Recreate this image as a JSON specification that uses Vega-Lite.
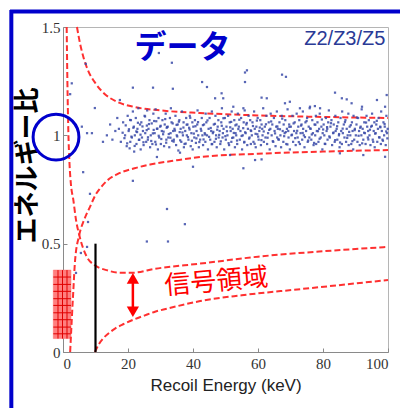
{
  "$schema": "https://vega.github.io/schema/vega-lite/v6.json",
  "width": 325,
  "height": 325,
  "autosize": "none",
  "padding": {"left": 63, "top": 27, "right": 12, "bottom": 56},
  "background": "white",
  "config": {
    "view": {"stroke": "#b5b5b5", "strokeWidth": 1},
    "axis": {
      "grid": false,
      "domainColor": "#8a8a8a",
      "tickColor": "#8a8a8a",
      "tickSize": -4,
      "labelFont": "Liberation Serif",
      "labelFontSize": 15,
      "labelColor": "#333333"
    }
  },
  "datasets": {
    "band2": [
      {"x": 18.35, "y": 1.012}, {"x": 18.9, "y": 0.987}, {"x": 19.3, "y": 1.046}, {"x": 19.75, "y": 0.963}, {"x": 20.3, "y": 1.028},
      {"x": 20.65, "y": 1.071}, {"x": 21.05, "y": 0.994}, {"x": 21.65, "y": 1.035}, {"x": 22.05, "y": 0.951}, {"x": 22.55, "y": 1.018},
      {"x": 23.05, "y": 1.058}, {"x": 23.35, "y": 0.979}, {"x": 23.85, "y": 1.003}, {"x": 24.45, "y": 1.041}, {"x": 24.75, "y": 0.968},
      {"x": 25.25, "y": 1.087}, {"x": 25.75, "y": 1.024}, {"x": 26.15, "y": 0.991}, {"x": 26.45, "y": 1.052}, {"x": 27.15, "y": 0.974},
      {"x": 27.65, "y": 1.009}, {"x": 28.05, "y": 1.066}, {"x": 28.6, "y": 0.958}, {"x": 29.05, "y": 1.031}, {"x": 29.45, "y": 0.998},
      {"x": 30.05, "y": 1.044}, {"x": 30.25, "y": 0.983}, {"x": 30.95, "y": 1.017}, {"x": 31.45, "y": 1.075}, {"x": 31.75, "y": 0.966},
      {"x": 32.05, "y": 1.038}, {"x": 32.55, "y": 1.006}, {"x": 33.05, "y": 0.989}, {"x": 33.75, "y": 1.055}, {"x": 34.05, "y": 0.971},
      {"x": 34.45, "y": 1.022}, {"x": 34.95, "y": 1.048}, {"x": 35.15, "y": 0.995}, {"x": 35.65, "y": 1.063}, {"x": 36.05, "y": 0.977},
      {"x": 36.75, "y": 1.013}, {"x": 37.05, "y": 1.036}, {"x": 37.75, "y": 0.962}, {"x": 38.05, "y": 1.049}, {"x": 38.45, "y": 0.992},
      {"x": 38.95, "y": 1.027}, {"x": 39.15, "y": 1.081}, {"x": 39.65, "y": 0.975}, {"x": 40.25, "y": 1.008}, {"x": 40.75, "y": 1.042},
      {"x": 41.05, "y": 0.986}, {"x": 41.55, "y": 1.061}, {"x": 41.95, "y": 0.969}, {"x": 42.55, "y": 1.021}, {"x": 43.05, "y": 1.047},
      {"x": 43.25, "y": 0.981}, {"x": 43.75, "y": 1.004}, {"x": 44.45, "y": 1.069}, {"x": 44.95, "y": 0.993}, {"x": 45.45, "y": 1.034},
      {"x": 45.75, "y": 0.959}, {"x": 46.25, "y": 1.016}, {"x": 46.75, "y": 1.053}, {"x": 47.05, "y": 0.984}, {"x": 47.45, "y": 1.026},
      {"x": 48.05, "y": 1.002}, {"x": 48.55, "y": 0.972}, {"x": 48.85, "y": 1.044}, {"x": 49.35, "y": 1.079}, {"x": 49.95, "y": 0.996},
      {"x": 50.45, "y": 1.019}, {"x": 50.95, "y": 0.964}, {"x": 51.45, "y": 1.037}, {"x": 51.75, "y": 1.062}, {"x": 52.05, "y": 0.988},
      {"x": 52.55, "y": 1.011}, {"x": 53.05, "y": 1.046}, {"x": 53.55, "y": 0.976}, {"x": 53.95, "y": 1.029}, {"x": 54.25, "y": 1.072},
      {"x": 54.95, "y": 0.997}, {"x": 55.45, "y": 1.033}, {"x": 55.75, "y": 0.967}, {"x": 56.05, "y": 1.014}, {"x": 56.55, "y": 1.057},
      {"x": 57.25, "y": 0.985}, {"x": 57.75, "y": 1.023}, {"x": 58.45, "y": 1.043}, {"x": 58.95, "y": 0.961}, {"x": 59.25, "y": 1.007},
      {"x": 59.65, "y": 1.068}, {"x": 60.05, "y": 0.994}, {"x": 60.55, "y": 1.036}, {"x": 61.05, "y": 0.978}, {"x": 61.75, "y": 1.018},
      {"x": 62.45, "y": 1.051}, {"x": 62.95, "y": 0.989}, {"x": 63.45, "y": 1.025}, {"x": 64.05, "y": 1.064}, {"x": 64.55, "y": 0.973},
      {"x": 65.25, "y": 1.009}, {"x": 65.95, "y": 1.041}, {"x": 66.25, "y": 0.982}, {"x": 66.75, "y": 1.028}, {"x": 67.45, "y": 1.077},
      {"x": 68.05, "y": 0.996}, {"x": 68.55, "y": 1.015}, {"x": 69.05, "y": 0.958}, {"x": 69.65, "y": 1.039}, {"x": 70.45, "y": 1.003},
      {"x": 70.95, "y": 1.055}, {"x": 71.45, "y": 0.987}, {"x": 72.05, "y": 1.021}, {"x": 72.55, "y": 0.969}, {"x": 73.25, "y": 1.045},
      {"x": 73.75, "y": 1.011}, {"x": 74.45, "y": 0.992}, {"x": 74.95, "y": 1.066}, {"x": 75.45, "y": 0.976}, {"x": 76.05, "y": 1.032},
      {"x": 76.55, "y": 1.004}, {"x": 77.25, "y": 0.965}, {"x": 77.65, "y": 1.049}, {"x": 78.45, "y": 1.019}, {"x": 78.95, "y": 0.984},
      {"x": 79.65, "y": 1.073}, {"x": 80.05, "y": 1.027}, {"x": 80.55, "y": 0.961}, {"x": 81.25, "y": 1.038}, {"x": 81.95, "y": 0.995},
      {"x": 82.45, "y": 1.056}, {"x": 83.25, "y": 1.013}, {"x": 83.75, "y": 0.978}, {"x": 84.35, "y": 1.042}, {"x": 84.95, "y": 1.006},
      {"x": 85.25, "y": 0.967}, {"x": 86.05, "y": 1.031}, {"x": 86.75, "y": 1.061}, {"x": 87.45, "y": 0.988}, {"x": 88.05, "y": 1.016},
      {"x": 88.55, "y": 1.047}, {"x": 89.05, "y": 0.973}, {"x": 89.75, "y": 1.024}, {"x": 90.45, "y": 1.082}, {"x": 90.95, "y": 0.998},
      {"x": 91.45, "y": 1.035}, {"x": 92.05, "y": 0.963}, {"x": 92.65, "y": 1.012}, {"x": 93.25, "y": 1.059}, {"x": 93.95, "y": 0.981},
      {"x": 94.45, "y": 1.026}, {"x": 95.05, "y": 1.044}, {"x": 95.45, "y": 0.97}, {"x": 96.05, "y": 1.008}, {"x": 96.55, "y": 1.067},
      {"x": 97.25, "y": 0.991}, {"x": 97.65, "y": 1.037}, {"x": 98.45, "y": 0.975}, {"x": 98.95, "y": 1.052}, {"x": 99.45, "y": 1.018},
      {"x": 99.8, "y": 0.986}
    ]
  },
  "layer": [
    {
      "data": {"values": [{"x": -2.98, "x2": 2.46, "y": 0.062, "y2": 0.378}]},
      "mark": {"type": "rect", "fill": "#ff7f7f", "stroke": "#ff6a6a", "strokeWidth": 0.5},
      "encoding": {
        "x": {"field": "x", "type": "quantitative", "scale": {"domain": [0, 100], "nice": false, "zero": false}},
        "x2": {"field": "x2"},
        "y": {"field": "y", "type": "quantitative", "scale": {"domain": [0, 1.5], "nice": false, "zero": false}},
        "y2": {"field": "y2"}
      }
    },
    {
      "data": {"values": [{"x": -1.54, "y": 0.062, "y2": 0.378}, {"x": -0.15, "y": 0.062, "y2": 0.378}, {"x": 1.23, "y": 0.062, "y2": 0.378}]},
      "mark": {"type": "rule", "color": "#e00000", "strokeWidth": 1},
      "encoding": {
        "x": {"field": "x", "type": "quantitative"},
        "y": {"field": "y", "type": "quantitative"},
        "y2": {"field": "y2"}
      }
    },
    {
      "data": {"values": [
        {"y": 0.346, "x": -2.98, "x2": 2.46}, {"y": 0.312, "x": -2.98, "x2": 2.46}, {"y": 0.280, "x": -2.98, "x2": 2.46},
        {"y": 0.246, "x": -2.98, "x2": 2.46}, {"y": 0.215, "x": -2.98, "x2": 2.46}, {"y": 0.181, "x": -2.98, "x2": 2.46},
        {"y": 0.149, "x": -2.98, "x2": 2.46}, {"y": 0.115, "x": -2.98, "x2": 2.46}, {"y": 0.084, "x": -2.98, "x2": 2.46}
      ]},
      "mark": {"type": "rule", "color": "#e00000", "strokeWidth": 1},
      "encoding": {
        "y": {"field": "y", "type": "quantitative"},
        "x": {"field": "x", "type": "quantitative"},
        "x2": {"field": "x2"}
      }
    },
    {
      "data": {"values": [
        {"c": "A", "x": 4.3, "y": 1.5}, {"c": "A", "x": 5.3, "y": 1.42}, {"c": "A", "x": 6.4, "y": 1.355}, {"c": "A", "x": 7.7, "y": 1.3},
        {"c": "A", "x": 10, "y": 1.24}, {"c": "A", "x": 12.9, "y": 1.19}, {"c": "A", "x": 16.6, "y": 1.155}, {"c": "A", "x": 22.2, "y": 1.13},
        {"c": "A", "x": 30, "y": 1.115}, {"c": "A", "x": 42, "y": 1.103}, {"c": "A", "x": 60, "y": 1.092}, {"c": "A", "x": 80, "y": 1.085},
        {"c": "A", "x": 100, "y": 1.08},
        {"c": "B", "x": 2.2, "y": 0.0}, {"c": "B", "x": 2.7, "y": 0.15}, {"c": "B", "x": 3.2, "y": 0.29}, {"c": "B", "x": 3.7, "y": 0.42},
        {"c": "B", "x": 5.0, "y": 0.54}, {"c": "B", "x": 6.5, "y": 0.61}, {"c": "B", "x": 8.3, "y": 0.67}, {"c": "B", "x": 10, "y": 0.725},
        {"c": "B", "x": 11.4, "y": 0.755}, {"c": "B", "x": 13.5, "y": 0.79}, {"c": "B", "x": 16.6, "y": 0.82}, {"c": "B", "x": 22, "y": 0.848},
        {"c": "B", "x": 26.8, "y": 0.865}, {"c": "B", "x": 35, "y": 0.885}, {"c": "B", "x": 42.2, "y": 0.9}, {"c": "B", "x": 60, "y": 0.915},
        {"c": "B", "x": 80, "y": 0.925}, {"c": "B", "x": 100, "y": 0.932},
        {"c": "C", "x": 1.13, "y": 1.5}, {"c": "C", "x": 1.35, "y": 1.25}, {"c": "C", "x": 1.64, "y": 1.02}, {"c": "C", "x": 2.0, "y": 0.87},
        {"c": "C", "x": 2.4, "y": 0.78}, {"c": "C", "x": 3.2, "y": 0.7}, {"c": "C", "x": 4.0, "y": 0.61}, {"c": "C", "x": 5.0, "y": 0.54},
        {"c": "C", "x": 7.3, "y": 0.44}, {"c": "C", "x": 9.8, "y": 0.4}, {"c": "C", "x": 13.4, "y": 0.378}, {"c": "C", "x": 17.5, "y": 0.366},
        {"c": "C", "x": 21.5, "y": 0.366}, {"c": "C", "x": 28.3, "y": 0.384}, {"c": "C", "x": 42.2, "y": 0.408}, {"c": "C", "x": 60, "y": 0.44},
        {"c": "C", "x": 80, "y": 0.465}, {"c": "C", "x": 100, "y": 0.485},
        {"c": "D", "x": 9.8, "y": 0.0}, {"c": "D", "x": 11, "y": 0.035}, {"c": "D", "x": 12.5, "y": 0.065}, {"c": "D", "x": 14.5, "y": 0.092},
        {"c": "D", "x": 16, "y": 0.108}, {"c": "D", "x": 18.5, "y": 0.128}, {"c": "D", "x": 21.5, "y": 0.148}, {"c": "D", "x": 25, "y": 0.168},
        {"c": "D", "x": 28.3, "y": 0.186}, {"c": "D", "x": 32, "y": 0.2}, {"c": "D", "x": 42.2, "y": 0.235}, {"c": "D", "x": 55, "y": 0.262},
        {"c": "D", "x": 73, "y": 0.29}, {"c": "D", "x": 100, "y": 0.332}
      ]},
      "mark": {"type": "line", "color": "#ff3030", "strokeWidth": 2, "strokeDash": [6, 3], "interpolate": "monotone"},
      "encoding": {
        "x": {"field": "x", "type": "quantitative"},
        "y": {"field": "y", "type": "quantitative"},
        "detail": {"field": "c"}
      }
    },
    {
      "data": {"values": [{"x": 10, "y": 0, "y2": 0.5}]},
      "mark": {"type": "rule", "color": "#000000", "strokeWidth": 2.2},
      "encoding": {
        "x": {"field": "x", "type": "quantitative"},
        "y": {"field": "y", "type": "quantitative"},
        "y2": {"field": "y2"}
      }
    },
    {
      "data": {"values": [{"x": 21.5, "y": 0.19, "y2": 0.335}]},
      "mark": {"type": "rule", "color": "#ff0000", "strokeWidth": 2.5},
      "encoding": {
        "x": {"field": "x", "type": "quantitative"},
        "y": {"field": "y", "type": "quantitative"},
        "y2": {"field": "y2"}
      }
    },
    {
      "data": {"values": [{"x": 21.5, "y": 0.34, "s": "triangle-up"}, {"x": 21.5, "y": 0.186, "s": "triangle-down"}]},
      "mark": {"type": "point", "filled": true, "color": "#ff0000", "opacity": 1, "size": 150},
      "encoding": {
        "x": {"field": "x", "type": "quantitative"},
        "y": {"field": "y", "type": "quantitative"},
        "shape": {"field": "s", "type": "nominal", "scale": null}
      }
    },
    {
      "data": {"name": "band2"},
      "mark": {"type": "point", "filled": true, "shape": "square", "size": 5, "color": "#3a4aa8", "opacity": 0.85},
      "encoding": {
        "x": {"field": "x", "type": "quantitative"},
        "y": {"field": "y", "type": "quantitative"}
      }
    },
    {
      "data": {"values": [
        {"x": 2.2, "y": 1.19}, {"x": 2.7, "y": 1.24}, {"x": 7.0, "y": 1.33}, {"x": 9.8, "y": 1.126}, {"x": 5.8, "y": 1.04},
        {"x": 7.4, "y": 1.01}, {"x": 8.9, "y": 1.01}, {"x": 13.5, "y": 1.0}, {"x": 6.2, "y": 0.83}, {"x": 8.3, "y": 0.73},
        {"x": 7.7, "y": 0.6}, {"x": 7.4, "y": 0.485}, {"x": 5.5, "y": 0.457}, {"x": 4.0, "y": 0.365}, {"x": 21.5, "y": 0.79},
        {"x": 25.8, "y": 0.51}, {"x": 32.3, "y": 0.51}, {"x": 32, "y": 0.66}, {"x": 37.5, "y": 0.59}, {"x": 29.5, "y": 1.38},
        {"x": 33.5, "y": 1.335}, {"x": 56, "y": 1.246}, {"x": 56, "y": 1.29}, {"x": 56.6, "y": 1.3}, {"x": 67.4, "y": 1.28},
        {"x": 68.6, "y": 1.27}, {"x": 42.8, "y": 1.246}, {"x": 44.3, "y": 1.223}, {"x": 55.5, "y": 0.848}, {"x": 61.1, "y": 0.889},
        {"x": 59.1, "y": 0.886}, {"x": 51.4, "y": 0.909}, {"x": 85.2, "y": 0.917}, {"x": 92.4, "y": 0.909}, {"x": 99.1, "y": 0.901},
        {"x": 17.5, "y": 1.163}, {"x": 21.5, "y": 1.22}, {"x": 27.7, "y": 1.22}, {"x": 33.8, "y": 1.215}, {"x": 28.9, "y": 0.9},
        {"x": 36, "y": 0.92}, {"x": 40, "y": 0.855}, {"x": 46.8, "y": 1.171}, {"x": 48.8, "y": 1.194}, {"x": 49.3, "y": 1.171},
        {"x": 52.4, "y": 1.132}, {"x": 55.5, "y": 1.125}, {"x": 61.1, "y": 1.174}, {"x": 62.7, "y": 1.171}, {"x": 68.3, "y": 1.148},
        {"x": 69.8, "y": 1.155}, {"x": 72.9, "y": 1.125}, {"x": 76, "y": 1.132}, {"x": 77.5, "y": 1.135}, {"x": 79.1, "y": 1.125},
        {"x": 83.7, "y": 1.197}, {"x": 85.8, "y": 1.171}, {"x": 87.3, "y": 1.166}, {"x": 88.8, "y": 1.148}, {"x": 92, "y": 1.132},
        {"x": 96.6, "y": 1.163}, {"x": 99.6, "y": 1.186}, {"x": 99.1, "y": 1.132}, {"x": 14.5, "y": 1.05}, {"x": 15.2, "y": 0.98},
        {"x": 16.1, "y": 1.02}, {"x": 16.7, "y": 1.08}, {"x": 12.3, "y": 0.97},
        {"x": 17.2, "y": 1.03}, {"x": 17.8, "y": 0.97}, {"x": 18.5, "y": 1.06}, {"x": 19.1, "y": 1.0}, {"x": 19.6, "y": 0.95}, {"x": 19.9, "y": 1.09},
        {"x": 20.2, "y": 1.02}, {"x": 20.5, "y": 0.94}, {"x": 20.9, "y": 1.07}, {"x": 21.2, "y": 0.99}, {"x": 21.5, "y": 1.11}, {"x": 21.8, "y": 1.04}, {"x": 20.7, "y": 0.97}, {"x": 21.9, "y": 0.925},
        {"x": 22.1, "y": 1.0}, {"x": 22.4, "y": 1.08}, {"x": 22.6, "y": 0.96}, {"x": 22.9, "y": 1.03}, {"x": 23.2, "y": 1.125}, {"x": 23.5, "y": 0.98}, {"x": 23.7, "y": 1.05}, {"x": 23.9, "y": 0.935}, {"x": 22.8, "y": 1.015},
        {"x": 24.1, "y": 1.06}, {"x": 24.3, "y": 0.99}, {"x": 24.6, "y": 1.02}, {"x": 24.8, "y": 0.955}, {"x": 25.1, "y": 1.09}, {"x": 25.3, "y": 1.01}, {"x": 25.6, "y": 0.97}, {"x": 25.8, "y": 1.045}, {"x": 25.9, "y": 1.115},
        {"x": 26.1, "y": 0.98}, {"x": 26.3, "y": 1.03}, {"x": 26.6, "y": 1.07}, {"x": 26.8, "y": 0.945}, {"x": 27.0, "y": 1.0}, {"x": 27.3, "y": 1.055}, {"x": 27.5, "y": 0.96}, {"x": 27.8, "y": 1.1}, {"x": 27.9, "y": 1.025},
        {"x": 28.2, "y": 1.01}, {"x": 28.4, "y": 0.97}, {"x": 28.7, "y": 1.065}, {"x": 28.9, "y": 1.03}, {"x": 29.2, "y": 0.935}, {"x": 29.4, "y": 1.08}, {"x": 29.6, "y": 0.99}, {"x": 29.9, "y": 1.04}, {"x": 28.5, "y": 1.12},
        {"x": 30.1, "y": 0.96}, {"x": 30.4, "y": 1.02}, {"x": 30.6, "y": 1.07}, {"x": 30.8, "y": 1.005}, {"x": 31.1, "y": 0.95}, {"x": 31.3, "y": 1.05}, {"x": 31.6, "y": 1.1}, {"x": 31.8, "y": 0.98}, {"x": 31.9, "y": 1.035},
        {"x": 32.2, "y": 1.04}, {"x": 32.4, "y": 0.99}, {"x": 32.7, "y": 0.945}, {"x": 32.9, "y": 1.08}, {"x": 33.1, "y": 1.01}, {"x": 33.4, "y": 1.06}, {"x": 33.6, "y": 0.975}, {"x": 33.9, "y": 1.02}, {"x": 33.2, "y": 1.125},
        {"x": 34.1, "y": 0.98}, {"x": 34.3, "y": 1.03}, {"x": 34.6, "y": 1.09}, {"x": 34.8, "y": 0.955}, {"x": 35.0, "y": 1.0}, {"x": 35.3, "y": 1.05}, {"x": 35.5, "y": 0.93}, {"x": 35.8, "y": 1.07}, {"x": 35.9, "y": 1.015},
        {"x": 36.2, "y": 1.03}, {"x": 36.4, "y": 0.97}, {"x": 36.6, "y": 1.11}, {"x": 36.9, "y": 1.0}, {"x": 37.1, "y": 1.06}, {"x": 37.4, "y": 0.96}, {"x": 37.6, "y": 1.02}, {"x": 37.9, "y": 1.08}, {"x": 37.2, "y": 0.945},
        {"x": 38.1, "y": 1.0}, {"x": 38.3, "y": 1.05}, {"x": 38.6, "y": 0.98}, {"x": 38.8, "y": 1.035}, {"x": 39.0, "y": 1.09}, {"x": 39.3, "y": 0.95}, {"x": 39.5, "y": 1.01}, {"x": 39.8, "y": 1.06}, {"x": 39.9, "y": 0.935},
        {"x": 40.1, "y": 1.04}, {"x": 40.4, "y": 0.99}, {"x": 40.6, "y": 1.07}, {"x": 40.9, "y": 0.965}, {"x": 41.1, "y": 1.02}, {"x": 41.4, "y": 1.115}, {"x": 41.6, "y": 1.0}, {"x": 41.8, "y": 0.945}, {"x": 41.3, "y": 1.05},
        {"x": 42.2, "y": 0.98}, {"x": 42.4, "y": 1.03}, {"x": 42.7, "y": 1.08}, {"x": 42.9, "y": 1.0}, {"x": 43.1, "y": 0.955}, {"x": 43.4, "y": 1.05}, {"x": 43.6, "y": 1.01}, {"x": 43.8, "y": 0.97}, {"x": 43.9, "y": 1.1},
        {"x": 44.1, "y": 1.06}, {"x": 44.3, "y": 1.0}, {"x": 44.6, "y": 0.935}, {"x": 44.8, "y": 1.03}, {"x": 45.1, "y": 1.08}, {"x": 45.3, "y": 0.98}, {"x": 45.6, "y": 1.02}, {"x": 45.8, "y": 1.11}, {"x": 45.9, "y": 0.96},
        {"x": 46.1, "y": 1.01}, {"x": 46.4, "y": 1.05}, {"x": 46.6, "y": 0.97}, {"x": 46.9, "y": 1.09}, {"x": 47.1, "y": 1.0}, {"x": 47.3, "y": 0.945}, {"x": 47.6, "y": 1.04}, {"x": 47.8, "y": 1.07}, {"x": 47.9, "y": 0.99},
        {"x": 48.2, "y": 1.02}, {"x": 48.4, "y": 0.96}, {"x": 48.7, "y": 1.06}, {"x": 48.9, "y": 1.125}, {"x": 49.1, "y": 0.99}, {"x": 49.4, "y": 1.03}, {"x": 49.6, "y": 0.935}, {"x": 49.8, "y": 1.08}, {"x": 49.2, "y": 1.01},
        {"x": 50.1, "y": 0.98}, {"x": 50.3, "y": 1.04}, {"x": 50.6, "y": 1.0}, {"x": 50.8, "y": 1.09}, {"x": 51.1, "y": 0.955}, {"x": 51.3, "y": 1.06}, {"x": 51.6, "y": 1.02}, {"x": 51.8, "y": 0.97}, {"x": 51.9, "y": 1.11},
        {"x": 52.2, "y": 1.03}, {"x": 52.4, "y": 0.99}, {"x": 52.7, "y": 1.07}, {"x": 52.9, "y": 0.945}, {"x": 53.1, "y": 1.01}, {"x": 53.4, "y": 1.05}, {"x": 53.6, "y": 0.96}, {"x": 53.8, "y": 1.1}, {"x": 53.3, "y": 1.0},
        {"x": 54.1, "y": 1.04}, {"x": 54.4, "y": 0.98}, {"x": 54.6, "y": 1.02}, {"x": 54.8, "y": 1.08}, {"x": 55.1, "y": 0.935}, {"x": 55.3, "y": 1.0}, {"x": 55.6, "y": 1.06}, {"x": 55.8, "y": 0.97}, {"x": 55.9, "y": 1.115},
        {"x": 56.2, "y": 1.01}, {"x": 56.4, "y": 1.05}, {"x": 56.7, "y": 0.955}, {"x": 56.9, "y": 1.03}, {"x": 57.1, "y": 1.09}, {"x": 57.4, "y": 0.99}, {"x": 57.6, "y": 1.07}, {"x": 57.8, "y": 0.96}, {"x": 57.9, "y": 1.02},
        {"x": 58.1, "y": 1.0}, {"x": 58.3, "y": 1.06}, {"x": 58.6, "y": 0.97}, {"x": 58.8, "y": 1.11}, {"x": 59.0, "y": 1.03}, {"x": 59.3, "y": 0.945}, {"x": 59.5, "y": 1.04}, {"x": 59.8, "y": 1.005}, {"x": 59.9, "y": 1.08},
        {"x": 60.2, "y": 0.98}, {"x": 60.4, "y": 1.02}, {"x": 60.7, "y": 1.07}, {"x": 60.9, "y": 0.955}, {"x": 61.1, "y": 1.05}, {"x": 61.4, "y": 1.0}, {"x": 61.6, "y": 1.125}, {"x": 61.8, "y": 0.97}, {"x": 61.3, "y": 1.03},
        {"x": 62.1, "y": 1.04}, {"x": 62.3, "y": 0.99}, {"x": 62.6, "y": 1.09}, {"x": 62.8, "y": 0.96}, {"x": 63.1, "y": 1.01}, {"x": 63.3, "y": 1.06}, {"x": 63.6, "y": 0.935}, {"x": 63.8, "y": 1.03}, {"x": 63.9, "y": 1.1},
        {"x": 64.2, "y": 1.0}, {"x": 64.4, "y": 1.05}, {"x": 64.7, "y": 0.97}, {"x": 64.9, "y": 1.08}, {"x": 65.1, "y": 1.02}, {"x": 65.4, "y": 0.95}, {"x": 65.6, "y": 1.04}, {"x": 65.8, "y": 1.11}, {"x": 65.9, "y": 0.99},
        {"x": 66.1, "y": 1.03}, {"x": 66.4, "y": 0.98}, {"x": 66.6, "y": 1.06}, {"x": 66.9, "y": 1.0}, {"x": 67.1, "y": 0.945}, {"x": 67.3, "y": 1.09}, {"x": 67.6, "y": 1.02}, {"x": 67.8, "y": 0.97}, {"x": 67.9, "y": 1.05},
        {"x": 68.2, "y": 1.01}, {"x": 68.4, "y": 1.07}, {"x": 68.7, "y": 0.96}, {"x": 68.9, "y": 1.03}, {"x": 69.1, "y": 1.12}, {"x": 69.4, "y": 0.99}, {"x": 69.6, "y": 1.05}, {"x": 69.8, "y": 0.935}, {"x": 69.3, "y": 1.02},
        {"x": 70.1, "y": 1.04}, {"x": 70.3, "y": 1.0}, {"x": 70.6, "y": 1.09}, {"x": 70.8, "y": 0.97}, {"x": 71.1, "y": 1.02}, {"x": 71.3, "y": 1.06}, {"x": 71.6, "y": 0.955}, {"x": 71.8, "y": 1.01}, {"x": 71.9, "y": 1.1},
        {"x": 72.2, "y": 0.99}, {"x": 72.4, "y": 1.04}, {"x": 72.7, "y": 1.07}, {"x": 72.9, "y": 0.96}, {"x": 73.1, "y": 1.01}, {"x": 73.4, "y": 1.05}, {"x": 73.6, "y": 0.98}, {"x": 73.8, "y": 1.11}, {"x": 73.9, "y": 1.03},
        {"x": 74.1, "y": 1.0}, {"x": 74.3, "y": 0.945}, {"x": 74.6, "y": 1.06}, {"x": 74.8, "y": 1.02}, {"x": 75.1, "y": 1.08}, {"x": 75.3, "y": 0.97}, {"x": 75.6, "y": 1.04}, {"x": 75.8, "y": 0.99}, {"x": 75.9, "y": 1.125},
        {"x": 76.2, "y": 1.03}, {"x": 76.4, "y": 0.98}, {"x": 76.7, "y": 1.07}, {"x": 76.9, "y": 1.01}, {"x": 77.1, "y": 0.955}, {"x": 77.4, "y": 1.05}, {"x": 77.6, "y": 1.0}, {"x": 77.8, "y": 1.09}, {"x": 77.9, "y": 0.96},
        {"x": 78.1, "y": 1.02}, {"x": 78.3, "y": 1.06}, {"x": 78.6, "y": 0.97}, {"x": 78.8, "y": 1.03}, {"x": 79.0, "y": 1.1}, {"x": 79.3, "y": 0.99}, {"x": 79.5, "y": 1.04}, {"x": 79.8, "y": 0.935}, {"x": 79.9, "y": 1.01},
        {"x": 80.2, "y": 1.05}, {"x": 80.4, "y": 1.0}, {"x": 80.7, "y": 0.96}, {"x": 80.9, "y": 1.08}, {"x": 81.1, "y": 1.02}, {"x": 81.4, "y": 0.98}, {"x": 81.6, "y": 1.06}, {"x": 81.8, "y": 1.115}, {"x": 81.3, "y": 1.03},
        {"x": 82.1, "y": 0.99}, {"x": 82.3, "y": 1.04}, {"x": 82.6, "y": 1.07}, {"x": 82.8, "y": 0.955}, {"x": 83.1, "y": 1.01}, {"x": 83.3, "y": 1.05}, {"x": 83.6, "y": 0.97}, {"x": 83.8, "y": 1.09}, {"x": 83.9, "y": 1.02},
        {"x": 84.2, "y": 1.03}, {"x": 84.4, "y": 0.98}, {"x": 84.7, "y": 1.06}, {"x": 84.9, "y": 1.0}, {"x": 85.1, "y": 0.945}, {"x": 85.4, "y": 1.08}, {"x": 85.6, "y": 1.02}, {"x": 85.8, "y": 0.96}, {"x": 85.9, "y": 1.11},
        {"x": 86.1, "y": 1.01}, {"x": 86.4, "y": 1.05}, {"x": 86.6, "y": 0.99}, {"x": 86.9, "y": 1.07}, {"x": 87.1, "y": 0.97}, {"x": 87.3, "y": 1.03}, {"x": 87.6, "y": 1.0}, {"x": 87.8, "y": 1.1}, {"x": 87.9, "y": 0.955},
        {"x": 88.2, "y": 1.04}, {"x": 88.4, "y": 1.0}, {"x": 88.7, "y": 0.96}, {"x": 88.9, "y": 1.06}, {"x": 89.1, "y": 1.02}, {"x": 89.4, "y": 1.09}, {"x": 89.6, "y": 0.98}, {"x": 89.8, "y": 1.03}, {"x": 89.3, "y": 0.935},
        {"x": 90.1, "y": 1.0}, {"x": 90.3, "y": 1.05}, {"x": 90.6, "y": 0.97}, {"x": 90.8, "y": 1.08}, {"x": 91.1, "y": 1.02}, {"x": 91.3, "y": 0.955}, {"x": 91.6, "y": 1.04}, {"x": 91.8, "y": 1.0}, {"x": 91.9, "y": 1.12},
        {"x": 92.2, "y": 1.03}, {"x": 92.4, "y": 0.98}, {"x": 92.7, "y": 1.06}, {"x": 92.9, "y": 1.01}, {"x": 93.1, "y": 0.96}, {"x": 93.4, "y": 1.09}, {"x": 93.6, "y": 1.04}, {"x": 93.8, "y": 0.99}, {"x": 93.9, "y": 1.02},
        {"x": 94.1, "y": 1.07}, {"x": 94.3, "y": 1.0}, {"x": 94.6, "y": 0.955}, {"x": 94.8, "y": 1.04}, {"x": 95.1, "y": 1.1}, {"x": 95.3, "y": 0.98}, {"x": 95.6, "y": 1.02}, {"x": 95.8, "y": 1.06}, {"x": 95.9, "y": 0.945},
        {"x": 96.2, "y": 1.01}, {"x": 96.4, "y": 1.05}, {"x": 96.7, "y": 0.97}, {"x": 96.9, "y": 1.03}, {"x": 97.1, "y": 1.08}, {"x": 97.4, "y": 0.99}, {"x": 97.6, "y": 1.04}, {"x": 97.8, "y": 0.96}, {"x": 97.9, "y": 1.11},
        {"x": 98.1, "y": 1.02}, {"x": 98.3, "y": 0.98}, {"x": 98.6, "y": 1.06}, {"x": 98.8, "y": 1.0}, {"x": 99.0, "y": 1.04}, {"x": 99.3, "y": 0.955}, {"x": 99.5, "y": 1.09}, {"x": 99.7, "y": 1.01}, {"x": 99.9, "y": 1.03}
      ]},
      "mark": {"type": "point", "filled": true, "shape": "square", "size": 5, "color": "#3a4aa8", "opacity": 0.85},
      "encoding": {
        "x": {
          "field": "x", "type": "quantitative",
          "scale": {"domain": [0, 100], "nice": false, "zero": false},
          "axis": {"values": [0, 20, 40, 60, 80, 100], "title": "Recoil Energy (keV)", "titleFont": "Liberation Sans", "titleFontSize": 17, "titleFontWeight": "normal", "titleColor": "#222222", "titlePadding": 6, "labelPadding": 8}
        },
        "y": {
          "field": "y", "type": "quantitative",
          "scale": {"domain": [0, 1.5], "nice": false, "zero": false},
          "axis": {"values": [0, 0.5, 1, 1.5], "format": ".1~f", "title": "エネルギー比", "titleFont": "Noto Sans CJK JP", "titleFontSize": 26, "titleFontWeight": "bold", "titleColor": "#000000", "titleX": -36, "titleY": 138, "titleAngle": 270, "titleAlign": "center", "titleBaseline": "middle", "labelPadding": 7}
        }
      }
    },
    {
      "data": {"values": [{"x": -2.15, "y": 0.992}]},
      "mark": {"type": "point", "shape": "circle", "filled": false, "size": 2100, "stroke": "#0000cc", "strokeWidth": 3, "opacity": 1},
      "encoding": {
        "x": {"field": "x", "type": "quantitative"},
        "y": {"field": "y", "type": "quantitative"}
      }
    },
    {
      "data": {"values": [{"x": -15.9, "y": -0.3, "y2": 1.578}]},
      "mark": {"type": "rule", "color": "#0000cc", "strokeWidth": 4},
      "encoding": {
        "x": {"field": "x", "type": "quantitative"},
        "y": {"field": "y", "type": "quantitative"},
        "y2": {"field": "y2"}
      }
    },
    {
      "data": {"values": [{"x": -16.3, "x2": 104.5, "y": 1.5715}]},
      "mark": {"type": "rule", "color": "#0000cc", "strokeWidth": 4},
      "encoding": {
        "x": {"field": "x", "type": "quantitative"},
        "x2": {"field": "x2"},
        "y": {"field": "y", "type": "quantitative"}
      }
    },
    {
      "data": {"values": [{"x": 36.8, "y": 1.405, "t": "データ"}]},
      "mark": {"type": "text", "font": "Noto Sans CJK JP", "fontSize": 32, "fontWeight": "bold", "color": "#0000cc", "align": "center", "baseline": "middle"},
      "encoding": {
        "x": {"field": "x", "type": "quantitative"},
        "y": {"field": "y", "type": "quantitative"},
        "text": {"field": "t"}
      }
    },
    {
      "data": {"values": [{"x": 99.2, "y": 1.417, "t": "Z2/Z3/Z5"}]},
      "mark": {"type": "text", "font": "Liberation Sans", "fontSize": 20, "color": "#2a3a96", "align": "right", "baseline": "alphabetic"},
      "encoding": {
        "x": {"field": "x", "type": "quantitative"},
        "y": {"field": "y", "type": "quantitative"},
        "text": {"field": "t"}
      }
    },
    {
      "data": {"values": [{"x": 47.2, "y": 0.323, "t": "信号領域"}]},
      "mark": {"type": "text", "font": "Noto Sans CJK JP", "fontSize": 26, "color": "#ff0000", "align": "center", "baseline": "middle", "angle": -5},
      "encoding": {
        "x": {"field": "x", "type": "quantitative"},
        "y": {"field": "y", "type": "quantitative"},
        "text": {"field": "t"}
      }
    }
  ]
}
